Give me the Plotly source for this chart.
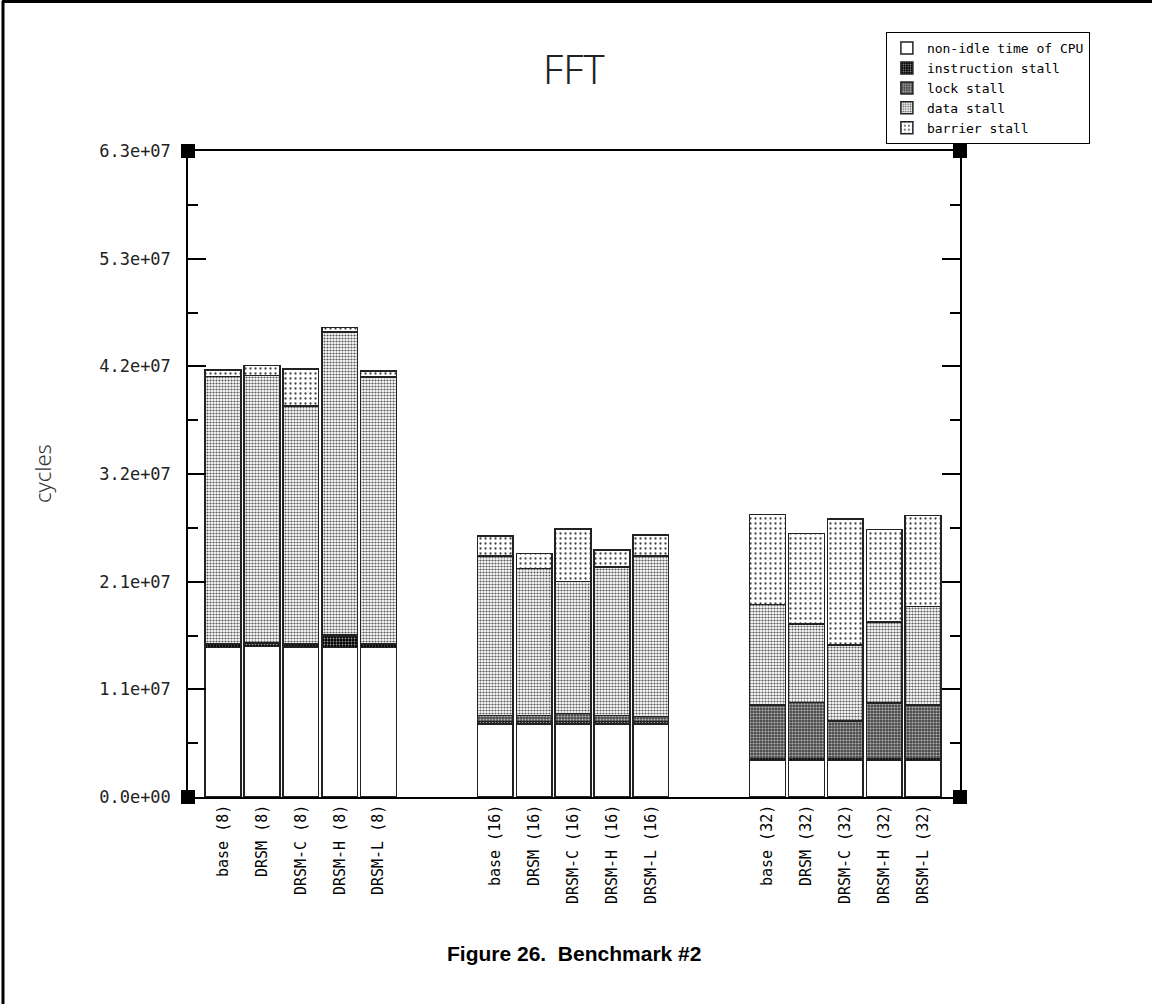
import plotly.graph_objects as go

categories = ["base (8)", "DRSM (8)", "DRSM-C (8)", "DRSM-H (8)", "DRSM-L (8)",
              "base (16)", "DRSM (16)", "DRSM-C (16)", "DRSM-H (16)", "DRSM-L (16)",
              "base (32)", "DRSM (32)", "DRSM-C (32)", "DRSM-H (32)", "DRSM-L (32)"]
group_index = [0] * 5 + [1] * 5 + [2] * 5
slot_index = [0, 1, 2, 3, 4] * 3

# values in millions of cycles
non_idle = [14.6, 14.7, 14.65, 14.6, 14.6,
            7.1, 7.1, 7.1, 7.1, 7.1,
            3.55, 3.55, 3.55, 3.55, 3.55]
instruction_stall = [0.25, 0.25, 0.25, 1.1, 0.25,
                     0.25, 0.25, 0.25, 0.25, 0.25,
                     0.2, 0.2, 0.2, 0.2, 0.2]
lock_stall = [0.05, 0.05, 0.05, 0.1, 0.05,
              0.6, 0.6, 0.8, 0.6, 0.5,
              5.2, 5.45, 3.65, 5.4, 5.2]
data_stall = [26.1, 26.1, 23.2, 29.55, 26.05,
              15.55, 14.35, 12.85, 14.5, 15.65,
              9.8, 7.65, 7.4, 7.9, 9.65]
barrier_stall = [0.65, 0.97, 3.6, 0.45, 0.58,
                 1.95, 1.46, 5.15, 1.63, 2.05,
                 8.8, 8.85, 12.3, 9.05, 8.85]

series_names = ["non-idle time of CPU", "instruction stall", "lock stall",
                "data stall", "barrier stall"]

y_tickvals = [0, 10.5e6, 21e6, 31.5e6, 42e6, 52.5e6, 63e6]
y_ticktext = ["0.0e+00", "1.1e+07", "2.1e+07", "3.2e+07", "4.2e+07", "5.3e+07", "6.3e+07"]

x_pos = [g * 7 + s for g, s in zip(group_index, slot_index)]

patterns = [
    dict(shape="", bgcolor="white"),
    dict(shape=".", bgcolor="#000000", fgcolor="#999999", size=3, solidity=0.3, fillmode="replace"),
    dict(shape=".", bgcolor="#474747", fgcolor="#b5b5b5", size=3, solidity=0.4, fillmode="replace"),
    dict(shape=".", bgcolor="#ffffff", fgcolor="#5a5a5a", size=3, solidity=0.42, fillmode="replace"),
    dict(shape=".", bgcolor="#ffffff", fgcolor="#444444", size=5, solidity=0.16, fillmode="replace"),
]

all_series = [non_idle, instruction_stall, lock_stall, data_stall, barrier_stall]

fig = go.Figure()
for name, vals, pat in zip(series_names, all_series, patterns):
    fig.add_trace(go.Bar(
        x=x_pos, y=[v * 1e6 for v in vals], name=name, width=0.92,
        marker=dict(color="white", pattern=pat, line=dict(color="#222222", width=1.5)),
    ))

mono = "DejaVu Sans Mono"

fig.update_layout(
    width=1152, height=1004,
    barmode="stack",
    paper_bgcolor="white", plot_bgcolor="white",
    margin=dict(l=188, r=192, t=151, b=207),
    showlegend=True,
    legend=dict(x=0.904, y=1.184, xanchor="left", yanchor="top",
                traceorder="normal", bordercolor="black", borderwidth=1,
                bgcolor="white", font=dict(family=mono, size=13, color="black"),
                itemwidth=30, tracegroupgap=0),
    xaxis=dict(range=[-0.9, 18.95], tickvals=x_pos, ticktext=categories,
               tickangle=-90, ticks="", showline=True, linecolor="black", linewidth=1.5,
               mirror=True, showgrid=False, zeroline=False,
               tickfont=dict(family=mono, size=15, color="black")),
    yaxis=dict(range=[0, 63e6], tickmode="array", tickvals=y_tickvals, ticktext=y_ticktext,
               ticks="inside", ticklen=18, tickwidth=1.5, tickcolor="black",
               showline=True, linecolor="black", linewidth=1.5, mirror="ticks",
               showgrid=False, zeroline=False, ticklabelstandoff=12,
               tickfont=dict(family=mono, size=17, color="#222222"),
               minor=dict(tickmode="linear", tick0=5.25e6, dtick=10.5e6, ticks="inside",
                          ticklen=10, tickwidth=1.5, tickcolor="black", showgrid=False)),
    annotations=[
        dict(text="FFT", xref="paper", yref="paper", x=0.5, y=1, yshift=83,
             showarrow=False, xanchor="center", yanchor="middle",
             font=dict(family="Noto Sans", size=40, color="#222222", weight=300)),
        dict(text="cycles", xref="paper", yref="paper", x=0, y=0.5, xshift=-146,
             showarrow=False, textangle=-90, xanchor="center", yanchor="middle",
             font=dict(family="Noto Sans", size=22, color="#333333", weight=300)),
        dict(text="<b>Figure 26.  Benchmark #2</b>", xref="paper", yref="paper",
             x=0.5, y=0, yshift=-156, showarrow=False, xanchor="center", yanchor="middle",
             font=dict(family="Liberation Sans", size=21, color="black")),
    ],
)

# corner markers on the plot frame
for cx in (0, 1):
    for cy in (0, 1):
        fig.add_shape(type="rect", xref="paper", yref="paper",
                      xsizemode="pixel", ysizemode="pixel", xanchor=cx, yanchor=cy,
                      x0=-7, x1=7, y0=-7, y1=7,
                      fillcolor="black", line=dict(width=0))

# outer page frame (left and top edges)
fig.add_shape(type="line", xref="paper", yref="paper", xsizemode="pixel", ysizemode="pixel",
              xanchor=0, yanchor=1, x0=-185, x1=-185, y0=-900, y1=150,
              line=dict(color="black", width=3))
fig.add_shape(type="line", xref="paper", yref="paper", xsizemode="pixel", ysizemode="pixel",
              xanchor=0, yanchor=1, x0=-186, x1=970, y0=149.5, y1=149.5,
              line=dict(color="black", width=3))

fig.write_html("out.html", config={"displayModeBar": False},
               post_script="document.body.style.margin='0px';")
